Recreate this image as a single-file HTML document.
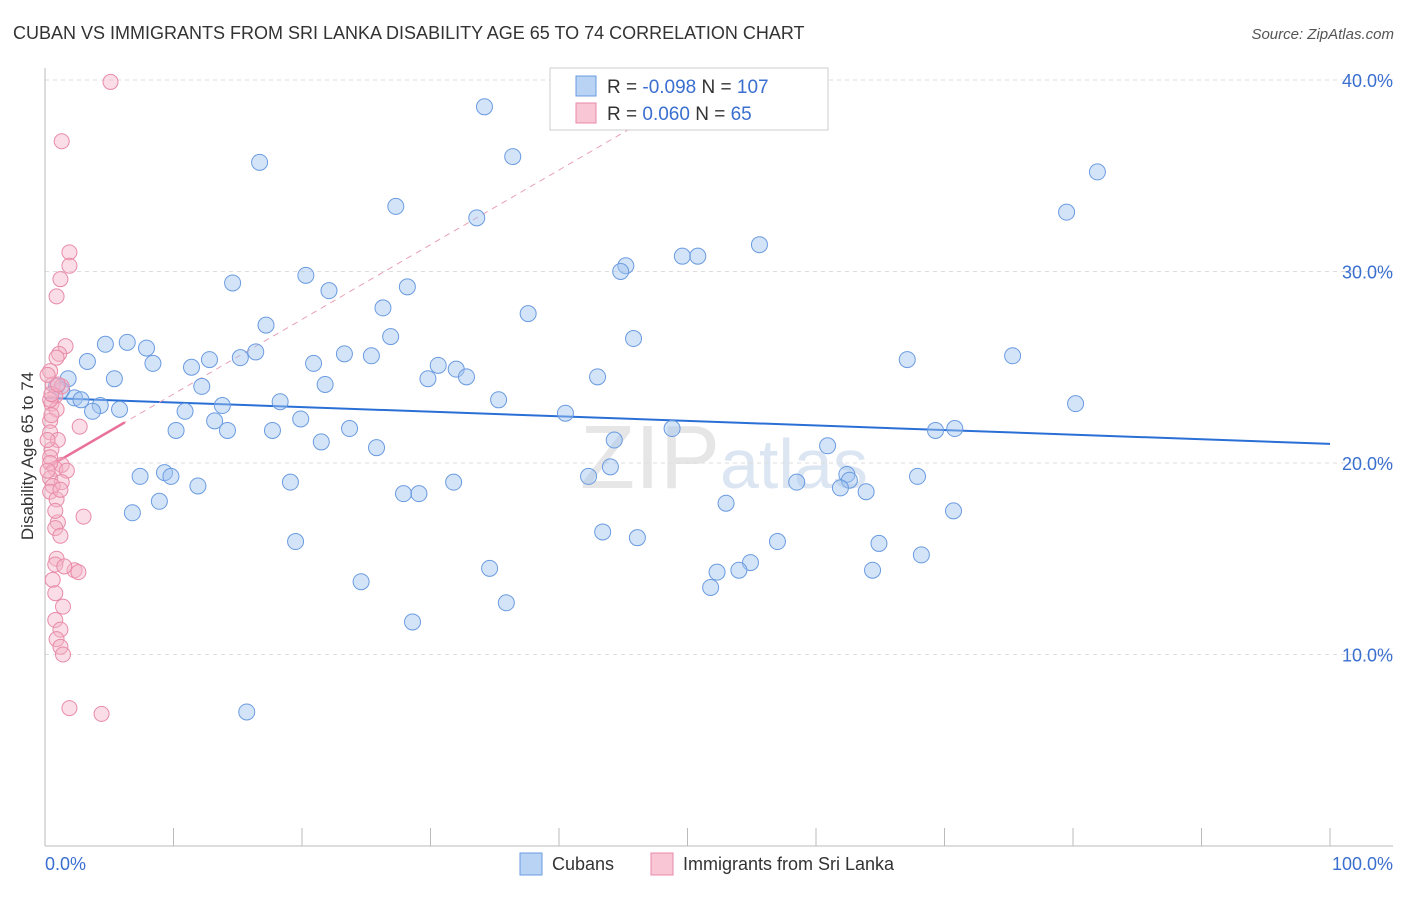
<!DOCTYPE html>
<html><head><meta charset="utf-8"><style>
body{margin:0;background:#fff;font-family:"Liberation Sans",sans-serif;}
svg text{font-family:"Liberation Sans",sans-serif;}
</style></head><body>
<svg id="chart" width="1406" height="892">
<text x="13" y="39" font-size="18" fill="#333">CUBAN VS IMMIGRANTS FROM SRI LANKA DISABILITY AGE 65 TO 74 CORRELATION CHART</text>
<text x="1394" y="39" font-size="15" fill="#555" font-style="italic" text-anchor="end">Source: ZipAtlas.com</text>
<text x="720" y="488" font-size="90" fill="#e6e6e6" text-anchor="end" font-family="Liberation Serif">ZIP</text>
<text x="720" y="488" font-size="70" fill="#dce6f2">atlas</text>
<g id="grid"></g>
<g id="axes"></g>
<g id="lines"></g>
<g id="pts"></g>
<text transform="translate(33,456) rotate(-90)" font-size="17" fill="#333" text-anchor="middle">Disability Age 65 to 74</text>
<g>
<rect x="550" y="68" width="278" height="62" fill="#fff" stroke="#ccc"/>
<rect x="576" y="76" width="20" height="20" fill="#b8d3f4" stroke="#6a9be0"/>
<text x="607" y="93" font-size="19" fill="#333">R = <tspan fill="#3a6fd0">-0.098</tspan>   N = <tspan fill="#3a6fd0">107</tspan></text>
<rect x="576" y="103" width="20" height="20" fill="#f8c6d5" stroke="#e88aa8"/>
<text x="607" y="120" font-size="19" fill="#333">R =  <tspan fill="#3a6fd0">0.060</tspan>   N =   <tspan fill="#3a6fd0">65</tspan></text>
</g>
<g>
<rect x="520" y="853" width="22" height="22" fill="#b8d3f4" stroke="#6a9be0"/>
<text x="552" y="870" font-size="18" fill="#333">Cubans</text></g>
<g>
<rect x="651" y="853" width="22" height="22" fill="#f8c6d5" stroke="#e88aa8"/>
<text x="683" y="870" font-size="18" fill="#333">Immigrants from Sri Lanka</text></g>
<text x="45" y="870" font-size="18" fill="#3a6fd0">0.0%</text>
<text x="1393" y="870" font-size="18" fill="#3a6fd0" text-anchor="end">100.0%</text>
</svg>
<script>
const yTicks=[10,20,30,40];
const yTickLabels=["10.0%","20.0%","30.0%","40.0%"];
const blueX=[34.2,16.7,36.4,81.9,27.3,33.6,79.5,55.6,49.6,50.8,45.2,44.8,20.3,14.6,28.2,22.1,26.3,37.6,17.2,26.9,45.8,6.4,4.7,7.9,16.4,15.2,23.3,25.4,3.3,8.4,12.8,20.9,67.1,75.3,11.4,30.6,32.0,32.8,29.8,43.0,5.4,1.8,0.9,1.3,21.8,12.2,2.3,2.8,18.3,35.3,80.2,4.3,13.8,5.8,3.7,10.9,40.5,19.9,13.2,14.2,10.2,17.7,23.7,48.8,69.3,70.8,21.5,44.3,25.8,60.9,44.0,7.4,9.3,9.8,62.4,62.6,42.3,11.9,19.1,31.8,58.5,61.9,63.9,67.9,27.9,29.1,8.9,53.0,6.8,70.7,43.4,46.1,19.5,57.0,64.9,68.2,54.9,34.6,52.3,54.0,64.4,24.6,51.8,35.9,28.6,15.7];
const blueY=[38.6,35.7,36.0,35.2,33.4,32.8,33.1,31.4,30.8,30.8,30.3,30.0,29.8,29.4,29.2,29.0,28.1,27.8,27.2,26.6,26.5,26.3,26.2,26.0,25.8,25.5,25.7,25.6,25.3,25.2,25.4,25.2,25.4,25.6,25.0,25.1,24.9,24.5,24.4,24.5,24.4,24.4,24.0,23.8,24.1,24.0,23.4,23.3,23.2,23.3,23.1,23.0,23.0,22.8,22.7,22.7,22.6,22.3,22.2,21.7,21.7,21.7,21.8,21.8,21.7,21.8,21.1,21.2,20.8,20.9,19.8,19.3,19.5,19.3,19.4,19.1,19.3,18.8,19.0,19.0,19.0,18.7,18.5,19.3,18.4,18.4,18.0,17.9,17.4,17.5,16.4,16.1,15.9,15.9,15.8,15.2,14.8,14.5,14.3,14.4,14.4,13.8,13.5,12.7,11.7,7.0];
const pinkX=[5.1,1.3,1.9,1.9,1.2,0.9,1.6,1.1,0.9,0.4,0.6,1.3,0.8,0.5,0.9,0.4,2.7,0.4,1.0,0.5,0.4,1.3,0.8,1.7,0.4,1.3,0.6,0.4,0.9,3.0,1.0,0.8,1.2,0.9,0.8,2.3,2.6,1.5,0.6,0.8,1.4,0.8,1.2,0.9,1.2,1.4,1.9,4.4,0.4,0.5,0.2,0.4,0.2,0.8,0.5,1.0,0.2,1.2];
const pinkY=[39.9,36.8,31.0,30.3,29.6,28.7,26.1,25.7,25.5,24.8,24.1,24.0,23.5,23.1,22.8,22.2,21.9,21.6,21.2,20.7,20.3,19.9,19.7,19.6,19.2,19.0,18.8,18.5,18.1,17.2,16.9,16.6,16.2,15.0,14.7,14.4,14.3,14.6,13.9,13.2,12.5,11.8,11.3,10.8,10.4,10.0,7.2,6.9,23.3,22.5,21.2,20.0,19.6,17.5,23.6,24.1,24.6,18.6];
const blueFit=[23.4,21.0];
const pinkFit=[19.7,0.39];
const ns="http://www.w3.org/2000/svg";
const X0=45,X1=1330,Y0=846,PXY=19.15;
const sx=v=>X0+(X1-X0)*v/100, sy=v=>Y0-v*PXY;
function mk(tag,attrs,parent){const e=document.createElementNS(ns,tag);for(const k in attrs)e.setAttribute(k,attrs[k]);document.getElementById(parent).appendChild(e);return e;}
yTicks.forEach((t,i)=>{
 const l=mk('line',{x1:X0,x2:1393,y1:sy(t),y2:sy(t),stroke:'#ddd','stroke-dasharray':'4,4'},'grid');
 
 
 const tx=mk('text',{x:1393,y:sy(t)+7,'font-size':18,fill:'#3a6fd0','text-anchor':'end'},'grid');
 tx.textContent=yTickLabels[i];
 
 
});
const ya=mk('line',{x1:X0,x2:X0,y1:68,y2:Y0,stroke:'#bbb'},'axes');


const xa=mk('line',{x1:X0,x2:1393,y1:Y0,y2:Y0,stroke:'#bbb'},'axes');


for(let k=0;k<=10;k++){const t=mk('line',{x1:sx(k*10),x2:sx(k*10),y1:Y0,y2:828,stroke:'#bbb'},'axes');
 
 }
const bl=mk('line',{x1:sx(0),y1:sy(blueFit[0]),x2:sx(100),y2:sy(blueFit[1]),stroke:'#2a6fd6','stroke-width':2},'lines');


const pe=(40-pinkFit[0])/pinkFit[1];
const pd=mk('line',{x1:sx(0),y1:sy(pinkFit[0]),x2:sx(pe),y2:sy(40),stroke:'#e8a0b8','stroke-width':1,'stroke-dasharray':'6,5'},'lines');


const pl=mk('line',{x1:sx(0),y1:sy(pinkFit[0]),x2:sx(6.2),y2:sy(pinkFit[0]+6.2*pinkFit[1]),stroke:'#e8709a','stroke-width':2.5},'lines');


blueX.forEach((x,i)=>{const c=mk('circle',{cx:sx(x),cy:sy(blueY[i]),r:8,fill:'rgba(160,195,240,0.45)',stroke:'#6a9be0','stroke-width':1},'pts');
 
 });
pinkX.forEach((x,i)=>{const c=mk('circle',{cx:sx(x),cy:sy(pinkY[i]),r:7.5,fill:'rgba(245,180,200,0.45)',stroke:'#e88aa8','stroke-width':1},'pts');
 
 });
</script>
</body></html>
